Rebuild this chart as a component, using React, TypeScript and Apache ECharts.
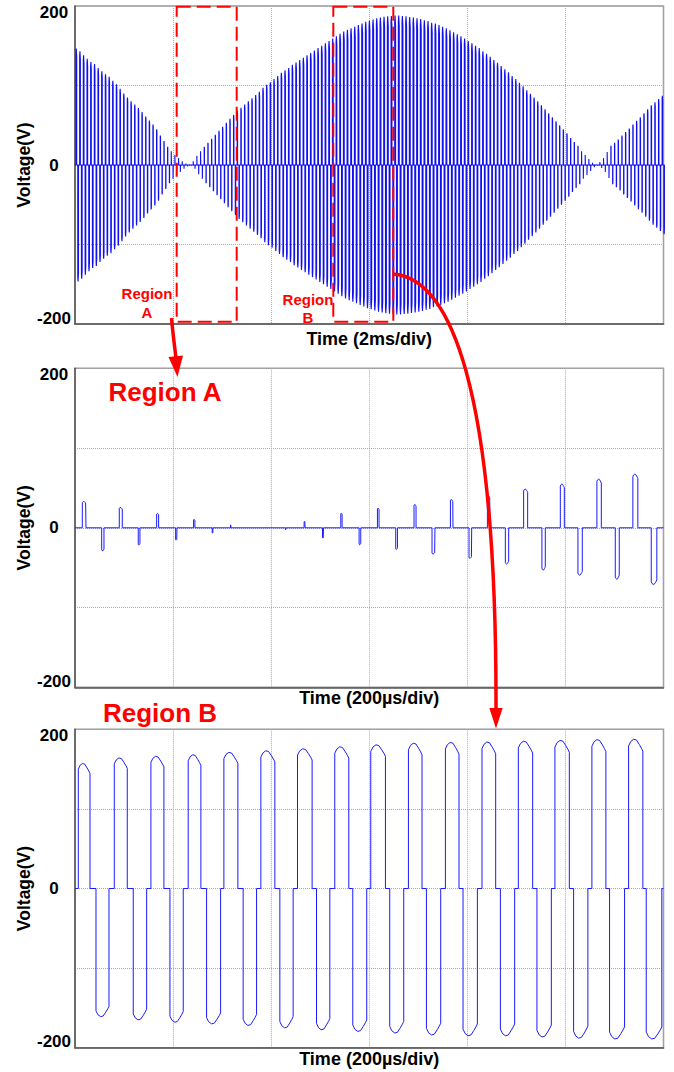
import React, { useEffect, useRef } from "react";
import * as echarts from "echarts";

// ---------- Overview (top panel, 2 ms/div): peak magnitude of each switching period (V)
const overviewPeaks = [
  146.5, 143, 138, 133.5, 129.5, 127, 122, 118, 114, 111,
  106, 101.5, 96, 90, 85, 80, 76, 71.5, 66.5, 61,
  56, 51, 45, 37, 30, 23, 18, 13, 9, 5,
  2, 1, 5, 12, 18, 23, 28, 33, 38, 43,
  48, 53, 58, 63, 68, 72, 76, 80, 84, 88,
  92, 97, 101, 104, 108, 112, 116, 119, 122, 126,
  129, 132, 135, 138, 141, 144, 147, 150, 153, 156,
  159, 162, 165, 168, 170, 172, 174, 176, 178, 180,
  181.5, 183, 184.5, 185.5, 186.5, 187, 187.5, 188, 188, 187.5,
  187, 186, 185.5, 184.5, 183.5, 182, 181, 179, 178, 176,
  174, 172, 169.5, 167, 164.5, 162, 159, 156, 153, 150,
  147, 143, 140, 136, 132, 128.5, 124.5, 120.5, 116.5, 112,
  108, 103.5, 99, 94, 89.5, 85, 80, 75, 70, 65,
  60, 55, 50, 45, 40, 34, 29, 24, 18, 13,
  8, 3, 1, 4, 9, 17, 24, 28, 32, 37,
  41.5, 46, 51, 55.5, 60, 65, 70, 75, 79, 83, 87,
];
const OVERVIEW_T0_MS = 0.02;
const OVERVIEW_PERIOD_MS = 0.0747;
const OVERVIEW_NEG_DELAY_MS = 0.0365;

// ---------- Region A (200 us/div): pulse start / end (us) and peak (V)
const regionAPosStart = [14.9, 90.3, 166.5, 241.8, 317.2, 467.2, 542, 616.7, 691.3, 765.5, 840.9, 914.8, 989.6, 1064.2, 1137.5];
const regionAPosEnd = [22.4, 96.4, 170.5, 244.5, 318.5, 469.2, 544.6, 620, 695.4, 770.8, 846.2, 923, 997.8, 1073.2, 1147.7];
const regionAPosPeak = [33, 25.5, 18, 10.5, 3.8, 8, 18.4, 24.7, 29.3, 35.5, 40, 48.5, 54.8, 61, 67.3];
const regionANegStart = [54.4, 129, 205.2, 279.7, 429.3, 504.7, 579.3, 654, 728, 803.4, 877.5, 952.1, 1025.5, 1101.7, 1175];
const regionANegEnd = [59.1, 132.4, 207.8, 281.2, 430.5, 506.7, 582.7, 657.5, 734, 808.9, 884.3, 959, 1034.4, 1109.8, 1186.4];
const regionANegPeak = [-29, -21.7, -15.5, -6.7, -2.5, -13, -21.3, -27.2, -33, -38.5, -45.6, -53, -59.4, -64.4, -71];

// ---------- Region B (200 us/div)
const regionBPosStart = [6.7, 80.1, 154.8, 230.8, 303.6, 379, 453.7, 529.7, 603.1, 679.9, 755.3, 829.9, 904, 978.6, 1054, 1128.8];
const regionBPosEnd = [30.6, 106.6, 181.3, 256.7, 332.1, 407.5, 483.5, 558.3, 633, 707.6, 783, 857.8, 933.2, 1008, 1082.5, 1157.9];
const regionBPosPeak = [157, 164, 166, 168, 171, 173, 175.5, 178, 180.5, 182.5, 183.5, 184, 185, 186, 187, 187.5];
const regionBNegStart = [42.8, 118.8, 193.6, 268.3, 342.9, 417.7, 492.5, 566.4, 641.8, 716.6, 791.2, 867.4, 941.9, 1016.7, 1090, 1164.8];
const regionBNegEnd = [69.3, 146.1, 220.7, 296.9, 370.2, 444.8, 519.6, 594.9, 670.3, 745.7, 820.5, 896.5, 971.3, 1045.8, 1120.6, 1196.6];
const regionBNegPeak = [-161, -165, -168, -170, -172, -175, -177.5, -179.5, -181.5, -184, -185, -185, -186.5, -188, -189, -189];

const yTicks = [-200, 0, 200];

type Pulse = { start: number; end: number; peak: number };

const TOP_PROFILE: [number, number][] = [
  [0, 0.955], [0.15, 0.985], [0.35, 1], [0.55, 0.995], [0.75, 0.965], [0.9, 0.94], [1, 0.92],
];
const OVERVIEW_PROFILE: [number, number][] = [[0, 0.96], [0.4, 1], [1, 0.93]];

function buildTrace(pulses: Pulse[], xMin: number, xMax: number, profile: [number, number][]) {
  const sorted = [...pulses].sort((a, b) => a.start - b.start);
  const pts: [number, number][] = [[xMin, 0]];
  for (const p of sorted) {
    pts.push([p.start, 0]);
    for (const [f, g] of profile) pts.push([p.start + (p.end - p.start) * f, p.peak * g]);
    pts.push([p.end, 0]);
  }
  pts.push([xMax, 0]);
  return pts;
}

function zipPulses(starts: number[], ends: number[], peaks: number[]): Pulse[] {
  return starts.map((s, i) => ({ start: s, end: ends[i], peak: peaks[i] }));
}

function overviewPulses(): Pulse[] {
  const out: Pulse[] = [];
  overviewPeaks.forEach((a, k) => {
    const s = OVERVIEW_T0_MS + k * OVERVIEW_PERIOD_MS;
    const w = 0.003 + 0.00008 * a;
    out.push({ start: s, end: s + w, peak: a });
    const n = s + OVERVIEW_NEG_DELAY_MS;
    out.push({ start: n, end: n + w, peak: -a });
  });
  return out;
}

const FONT = "'Liberation Sans', Arial, Helvetica, sans-serif";
const RED = "#ff0000";

export default function App() {
  const ref = useRef<HTMLDivElement>(null);

  useEffect(() => {
    document.body.style.margin = "0";
    if (!ref.current) return;
    const chart = echarts.init(ref.current, undefined, { renderer: "svg" });

    const grids = [
      { left: 75, top: 6, width: 588.5, height: 318 },
      { left: 75, top: 368.3, width: 588.5, height: 319 },
      { left: 75, top: 729.3, width: 588.5, height: 318.4 },
    ].map((g) => ({
      ...g,
      show: true,
      borderColor: "#999",
      borderWidth: 1.5,
      containLabel: false,
      outerBoundsMode: "none",
    }));

    const yAxis = [0, 1, 2].map((gi) => ({
      type: "value",
      gridIndex: gi,
      min: -200,
      max: 200,
      interval: 100,
      name: "Voltage(V)",
      nameLocation: "middle",
      nameRotate: 90,
      nameGap: 42,
      nameMoveOverlap: false,
      nameTextStyle: { fontFamily: FONT, fontWeight: "bold", fontSize: 17.5, color: "#000" },
      axisLine: { show: true, lineStyle: { color: "#555", width: 1.5 } },
      axisTick: { show: false },
      axisLabel: {
        formatter: (v: number) => (yTicks.includes(v) ? String(v) : ""),
        fontFamily: FONT,
        fontWeight: "bold",
        fontSize: 17,
        color: "#000",
        align: "center",
        margin: 21,
        lineHeight: 12,
        verticalAlignMinLabel: "bottom",
        verticalAlignMaxLabel: "top",
      },
      splitLine: { show: true, lineStyle: { color: "#aaa", type: "dotted", width: 1 } },
    }));

    const xDefs = [
      { max: 12, interval: 2, name: "Time (2ms/div)", gap: 6 },
      { max: 1200, interval: 200, name: "Time (200µs/div)", gap: 2 },
      { max: 1200, interval: 200, name: "Time (200µs/div)", gap: 2 },
    ];
    const xAxis = xDefs.map((d, gi) => ({
      type: "value",
      gridIndex: gi,
      min: 0,
      max: d.max,
      interval: d.interval,
      name: d.name,
      nameLocation: "middle",
      nameGap: d.gap,
      nameMoveOverlap: false,
      nameTextStyle: { fontFamily: FONT, fontWeight: "bold", fontSize: 18, color: "#000" },
      axisLine: { show: true, onZero: false, lineStyle: { color: "#555", width: 1.5 } },
      axisTick: { show: false },
      axisLabel: { show: false },
      splitLine: { show: true, lineStyle: { color: "#aaa", type: "dotted", width: 1 } },
    }));

    const topData = buildTrace(overviewPulses(), 0, 12, OVERVIEW_PROFILE);
    const aData = buildTrace(
      [
        ...zipPulses(regionAPosStart, regionAPosEnd, regionAPosPeak),
        ...zipPulses(regionANegStart, regionANegEnd, regionANegPeak),
      ],
      0,
      1200,
      TOP_PROFILE
    );
    const bData = buildTrace(
      [
        ...zipPulses(regionBPosStart, regionBPosEnd, regionBPosPeak),
        ...zipPulses(regionBNegStart, regionBNegEnd, regionBNegPeak),
      ],
      0,
      1200,
      TOP_PROFILE
    );

    const lineSeries = (data: [number, number][], idx: number, color: string, width: number) => ({
      type: "line",
      xAxisIndex: idx,
      yAxisIndex: idx,
      data,
      showSymbol: false,
      symbol: "none",
      clip: true,
      lineStyle: { color, width },
      emphasis: { disabled: true },
      silent: true,
    });

    const redText = (text: string, x: number, y: number, size: number) => ({
      type: "text",
      x,
      y,
      z: 100,
      style: {
        text,
        fill: RED,
        font: `bold ${size}px ${FONT}`,
        align: "center",
        verticalAlign: "middle",
      },
    });

    const dashedBox = (x1: number, x2: number) => ({
      type: "rect",
      z: 100,
      shape: { x: x1, y: 6.7, width: x2 - x1, height: 315 },
      style: { fill: "none", stroke: RED, lineWidth: 2, lineDash: [14, 6] },
    });

    const graphic = [
      dashedBox(176.7, 236.7),
      dashedBox(333.3, 393.3),
      redText("Region", 147, 293, 15),
      redText("A", 147, 312, 15),
      redText("Region", 308, 299, 15),
      redText("B", 308, 317, 15),
      redText("Region A", 165, 392, 26),
      redText("Region B", 160, 713, 26),
      {
        type: "bezierCurve",
        z: 100,
        shape: { x1: 171.5, y1: 318, cpx1: 173, cpy1: 335, cpx2: 175, cpy2: 350, x2: 176.5, y2: 362 },
        style: { stroke: RED, lineWidth: 3.5, fill: "none" },
      },
      {
        type: "polygon",
        z: 100,
        shape: { points: [[177.5, 377], [168.5, 357], [183, 355.5]] },
        style: { fill: RED },
      },
      {
        type: "bezierCurve",
        z: 100,
        shape: { x1: 393, y1: 274, cpx1: 450, cpy1: 278, cpx2: 497, cpy2: 385, x2: 496, y2: 712 },
        style: { stroke: RED, lineWidth: 3.5, fill: "none" },
      },
      {
        type: "polygon",
        z: 100,
        shape: { points: [[496, 728.5], [489.3, 708], [502.7, 708]] },
        style: { fill: RED },
      },
    ];

    chart.setOption({
      animation: false,
      backgroundColor: "#fff",
      grid: grids,
      xAxis,
      yAxis,
      series: [
        lineSeries(topData, 0, "#1010f0", 1.1),
        lineSeries(aData, 1, "#1a1aff", 1),
        lineSeries(bData, 2, "#1a1aff", 1),
      ],
      graphic,
    } as any);

    return () => chart.dispose();
  }, []);

  return <div ref={ref} style={{ width: 674, height: 1072 }} />;
}
